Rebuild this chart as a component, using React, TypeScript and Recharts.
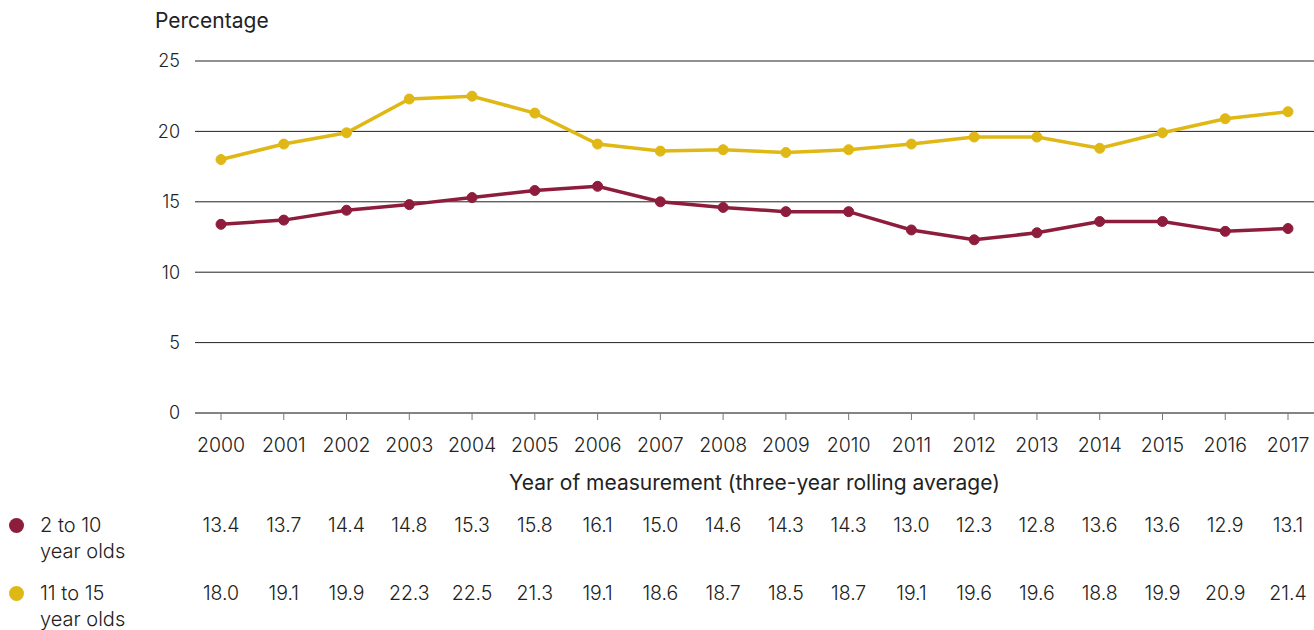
import React from 'react';
import { LineChart, Line, XAxis, YAxis, CartesianGrid } from 'recharts';

const years = ['2000','2001','2002','2003','2004','2005','2006','2007','2008','2009','2010','2011','2012','2013','2014','2015','2016','2017'];
const young = [13.4,13.7,14.4,14.8,15.3,15.8,16.1,15.0,14.6,14.3,14.3,13.0,12.3,12.8,13.6,13.6,12.9,13.1];
const older = [18.0,19.1,19.9,22.3,22.5,21.3,19.1,18.6,18.7,18.5,18.7,19.1,19.6,19.6,18.8,19.9,20.9,21.4];
const yTicks = [0,5,10,15,20,25];

const RED = '#8E1D3D';
const YEL = '#E0B816';
const TXT = '#222';
const FONT = 'Inter, "Liberation Sans", sans-serif';

const data = years.map((y, i) => ({ year: y, young: young[i], older: older[i] }));

export default function App() {
  return (
    <div style={{ position: 'relative', width: 1306, height: 622, marginLeft: 8, marginTop: 8, fontFamily: FONT, color: TXT }}>
      <style>{'html,body{overflow:hidden;margin:0;padding:0}'}</style>
      <div style={{ position: 'absolute', left: 147, top: 0, fontSize: 21, lineHeight: '26px' }}>Percentage</div>
      <LineChart width={1306} height={622} data={data} margin={{ top: 53, right: 0, left: 0, bottom: 8 }}>
        <CartesianGrid horizontal vertical={false} stroke="#222" strokeWidth={1} />
        <YAxis domain={[0, 25]} ticks={yTicks} width={187} axisLine={false} tickLine={false} tickSize={0} tickMargin={15}
          tick={{ fill: TXT, fontSize: 18, fontFamily: FONT, fontWeight: 300 }} />
        <XAxis dataKey="year" height={95} padding={{ left: 26, right: 26 }} stroke="#777" tickSize={7} tickMargin={18}
          tick={{ fill: TXT, fontSize: 19.5, fontFamily: FONT, fontWeight: 300 }}
          label={{ value: 'Year of measurement (three-year rolling average)', position: 'insideBottom', offset: 18, fill: TXT, fontSize: 21, fontFamily: FONT }} />
        <XAxis xAxisId="r1" dataKey="year" height={68} padding={{ left: 26, right: 26 }} axisLine={false} tickLine={false} tickSize={0} tickMargin={10}
          tickFormatter={(_v: any, i: number) => young[i].toFixed(1)} tick={{ fill: TXT, fontSize: 19.5, fontFamily: FONT, fontWeight: 300 }} />
        <XAxis xAxisId="r2" dataKey="year" height={46} padding={{ left: 26, right: 26 }} axisLine={false} tickLine={false} tickSize={0} tickMargin={10}
          tickFormatter={(_v: any, i: number) => older[i].toFixed(1)} tick={{ fill: TXT, fontSize: 19.5, fontFamily: FONT, fontWeight: 300 }} />
        <Line dataKey="young" stroke={RED} strokeWidth={3.5} dot={{ r: 5, fill: RED, stroke: RED, strokeWidth: 1 }} isAnimationActive={false} />
        <Line dataKey="older" stroke={YEL} strokeWidth={3.5} dot={{ r: 5, fill: YEL, stroke: YEL, strokeWidth: 1 }} isAnimationActive={false} />
      </LineChart>
      <div style={{ position: 'absolute', left: 1, top: 510, width: 15, height: 15, borderRadius: '50%', background: RED }} />
      <div style={{ position: 'absolute', left: 32, top: 504, fontSize: 20, lineHeight: '26px', fontWeight: 300 }}>2 to 10<br />year olds</div>
      <div style={{ position: 'absolute', left: 1, top: 578, width: 15, height: 15, borderRadius: '50%', background: YEL }} />
      <div style={{ position: 'absolute', left: 32, top: 572, fontSize: 20, lineHeight: '26px', fontWeight: 300 }}>11 to 15<br />year olds</div>
    </div>
  );
}
